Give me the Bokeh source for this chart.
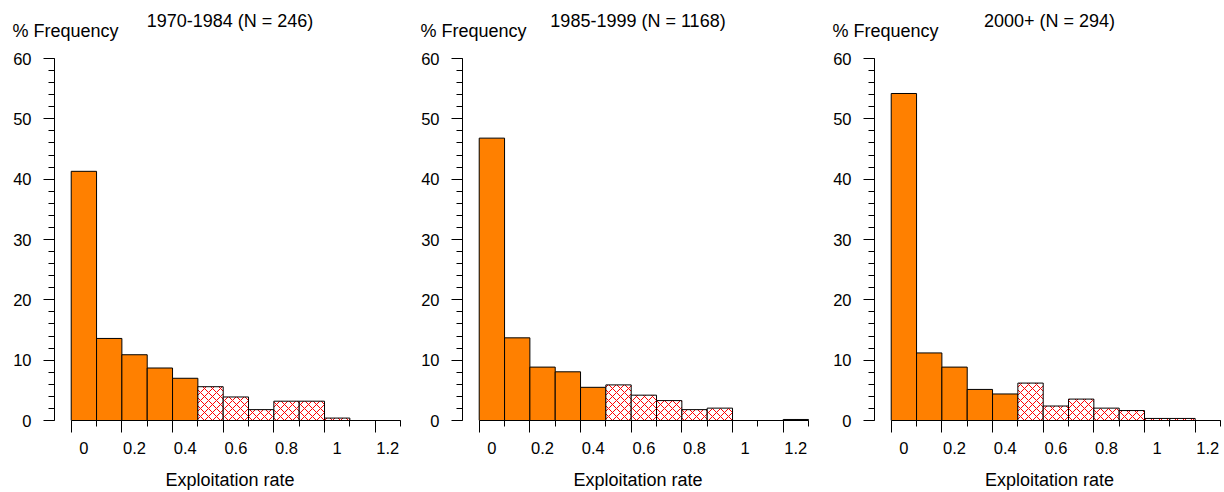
import numpy as np
from bokeh.plotting import figure
from bokeh.models import (ColumnDataSource, FixedTicker, LinearAxis, Title, Range1d,
                          NumeralTickFormatter)
from bokeh.layouts import row
from bokeh.embed import file_html
from bokeh.resources import INLINE

# ---------------- data ----------------
bin_centers = [0.0, 0.1, 0.2, 0.3, 0.4, 0.5, 0.6, 0.7, 0.8, 0.9, 1.0, 1.1, 1.2]
bin_width = 0.1
x_tick_labels = [0, 0.2, 0.4, 0.6, 0.8, 1, 1.2]
y_ticks = [0, 10, 20, 30, 40, 50, 60]
y_minor_ticks = list(range(0, 61, 2))
hatch_from = 0.5

titles = ["1970-1984 (N = 246)", "1985-1999 (N = 1168)", "2000+ (N = 294)"]
y_label = "% Frequency"
x_label = "Exploitation rate"
freq_1970_1984 = [41.3, 13.6, 10.9, 8.7, 7.0, 5.6, 3.9, 1.8, 3.2, 3.2, 0.4, 0.0, 0.0]
freq_1985_1999 = [46.8, 13.7, 8.85, 8.07, 5.5, 5.9, 4.2, 3.3, 1.8, 2.05, 0.0, 0.0, 0.17]
freq_2000_plus = [54.2, 11.2, 8.85, 5.15, 4.4, 6.2, 2.4, 3.55, 2.05, 1.65, 0.34, 0.34, 0.0]

ORANGE = "#FF8000"
FONT = "Liberation Sans"

edges = [round(c - bin_width / 2, 3) for c in bin_centers] + [round(bin_centers[-1] + bin_width / 2, 3)]
long_ticks = edges[0::2]
short_ticks = edges[1::2]


def make_panel(title, freqs, width, border_right):
    left_b = 54
    frame_w = width - left_b - border_right
    x0 = -0.116
    x1 = x0 + frame_w / 253.3
    p = figure(width=width, height=492, x_range=Range1d(x0, x1), y_range=Range1d(0, 60),
               output_backend="svg", toolbar_location=None,
               x_axis_location=None, y_axis_location=None,
               min_border_left=left_b, min_border_right=border_right,
               min_border_top=58, min_border_bottom=72)
    p.outline_line_color = None
    p.xgrid.visible = False
    p.ygrid.visible = False
    p.background_fill_color = "white"
    p.border_fill_color = "white"

    c = np.array(bin_centers)
    f = np.array(freqs)
    solid = c < hatch_from
    src_solid = ColumnDataSource(dict(left=c[solid] - bin_width / 2, right=c[solid] + bin_width / 2,
                                      top=f[solid]))
    src_hatch = ColumnDataSource(dict(left=c[~solid] - bin_width / 2, right=c[~solid] + bin_width / 2,
                                      top=f[~solid]))
    p.quad(left="left", right="right", bottom=0, top="top", source=src_solid,
           fill_color=ORANGE, line_color="black", line_width=1)
    p.quad(left="left", right="right", bottom=0, top="top", source=src_hatch,
           fill_color="white", line_color="black", line_width=1,
           hatch_pattern="diagonal_cross", hatch_color="red", hatch_scale=8, hatch_weight=1)

    # y axis
    yax = LinearAxis(ticker=FixedTicker(ticks=y_ticks, minor_ticks=y_minor_ticks),
                     bounds=(0, 60), major_tick_out=11, major_tick_in=0,
                     minor_tick_out=6, minor_tick_in=0, major_label_standoff=12,
                     major_label_text_font=FONT, major_label_text_font_size="16.5px",
                     major_label_text_color="black", axis_line_color="black",
                     major_tick_line_color="black", minor_tick_line_color="black")
    p.add_layout(yax, "left")

    # x axis: tick marks at bin edges (alternating long / short)
    xax_a = LinearAxis(ticker=FixedTicker(ticks=long_ticks, minor_ticks=short_ticks),
                       bounds=(edges[0], edges[-1]), major_tick_out=12, major_tick_in=0,
                       minor_tick_out=6, minor_tick_in=0, major_label_standoff=0,
                       major_label_text_font_size="0px",
                       major_label_overrides={t: "" for t in long_ticks},
                       axis_line_color="black", major_tick_line_color="black",
                       minor_tick_line_color="black")
    p.add_layout(xax_a, "below")
    # x axis: labels between tick marks
    xax_b = LinearAxis(ticker=FixedTicker(ticks=x_tick_labels, minor_ticks=[]),
                       formatter=NumeralTickFormatter(format="0.[0]"),
                       axis_line_color=None, major_tick_line_color=None,
                       minor_tick_line_color=None, major_tick_out=0, major_tick_in=0,
                       major_label_standoff=9, major_label_text_font=FONT,
                       major_label_text_font_size="16.5px", major_label_text_color="black",
                       axis_label=x_label, axis_label_text_font=FONT,
                       axis_label_text_font_size="18px", axis_label_text_font_style="normal",
                       axis_label_text_color="black", axis_label_standoff=13)
    p.add_layout(xax_b, "below")

    t_freq = Title(text=y_label, align="left", offset=-42, standoff=36,
                   text_font=FONT, text_font_size="18px", text_font_style="normal",
                   text_color="black")
    p.add_layout(t_freq, "above")
    t_main = Title(text=title, align="center", standoff=-60,
                   text_font=FONT, text_font_size="18px", text_font_style="normal",
                   text_color="black")
    p.add_layout(t_main, "above")
    return p


p1 = make_panel(titles[0], freq_1970_1984, 408, 3)
p2 = make_panel(titles[1], freq_1985_1999, 412, 7)
p3 = make_panel(titles[2], freq_2000_plus, 404, 0)
layout = row(p1, p2, p3)

open("out.html", "w").write(file_html(layout, INLINE))
